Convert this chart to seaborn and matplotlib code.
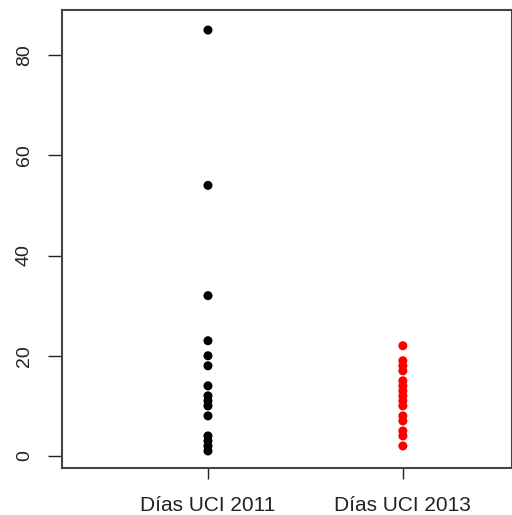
import pandas as pd
import seaborn as sns
import matplotlib.pyplot as plt

# values
dias_2011 = [85, 54, 32, 23, 20, 18, 14, 12, 11, 10, 8, 4, 3, 2, 1]
dias_2013 = [22, 19, 18, 17, 15, 14, 13, 12, 11, 10, 8, 7, 5, 4, 2]
groups = ['Días UCI 2011', 'Días UCI 2013']
colors = ['black', 'red']
yticks = [0, 20, 40, 60, 80]

df = pd.DataFrame({
    'grupo': [groups[0]] * len(dias_2011) + [groups[1]] * len(dias_2013),
    'dias': dias_2011 + dias_2013,
})

sns.set_style('white')
plt.rcParams['font.family'] = ['Liberation Sans', 'DejaVu Sans']

fig = plt.figure(figsize=(5.12, 5.15), dpi=100)
ax = fig.add_axes([62 / 512, 1 - 468 / 515, 450 / 512, 458 / 515])

sns.stripplot(data=df, x='grupo', y='dias', hue='grupo', palette=colors,
              jitter=False, size=6.5, linewidth=0, legend=False, ax=ax)

ax.set_xlim(-0.749, 1.56)
ax.set_ylim(-2.4, 89)
ax.set_yticks(yticks)
ax.set_yticklabels([str(v) for v in yticks], rotation=90, va='center', fontsize=14)
ax.set_xticks([0, 1])
ax.set_xticklabels(groups, fontsize=15)
ax.set_xlabel('')
ax.set_ylabel('')

for s in ax.spines.values():
    s.set_visible(True)
    s.set_color('#444444')
    s.set_linewidth(1.5)

ax.tick_params(axis='y', left=True, length=10, width=1, color='#222222', pad=11, labelcolor='#222222')
ax.tick_params(axis='x', bottom=True, length=8, width=1, color='#222222', pad=12, labelcolor='#222222')

fig.savefig('out.png', dpi=100)
plt.close(fig)
